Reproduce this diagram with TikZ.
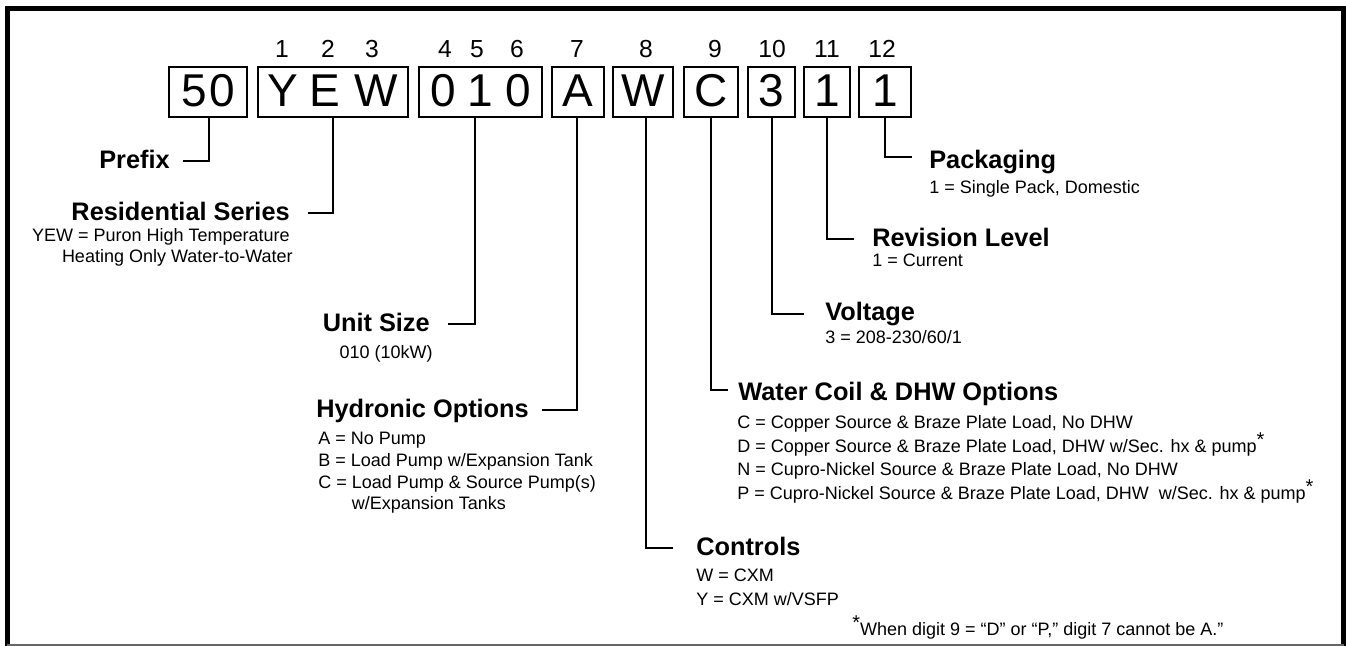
\documentclass[tikz,border=0pt]{standalone}
\usepackage{fontspec}
\setmainfont{Liberation Sans}
\newcommand{\bxfont}{\fontsize{34.5}{38}\selectfont}
\newcommand{\nmfont}{\fontsize{18.5}{20}\selectfont}
\newcommand{\hdfont}{\fontsize{19}{22}\selectfont\bfseries}
\newcommand{\bdfont}{\fontsize{13.5}{16}\selectfont}
\newcommand{\astk}{\raisebox{0.3em}{\fontsize{15}{15}\selectfont *}}
\begin{document}
\begin{tikzpicture}[x=0.75pt,y=-0.75pt,
  box/.style={draw,line width=1.5pt,inner sep=0pt,outer sep=0pt,minimum height=37.5pt,font=\bxfont,text height=24.7pt,text depth=3pt},
  num/.style={font=\nmfont,anchor=base,inner sep=0pt},
  headR/.style={font=\hdfont,anchor=base east,inner sep=0pt},
  headL/.style={font=\hdfont,anchor=base west,inner sep=0pt},
  bodyR/.style={font=\bdfont,anchor=base east,inner sep=0pt},
  bodyL/.style={font=\bdfont,anchor=base west,inner sep=0pt},
  conn/.style={line width=1.5pt}]
\useasboundingbox (0,0) rectangle (1346,646);
% frame
\draw[line width=3.75pt] (7,646) -- (7,8.5) -- (1343.5,8.5) -- (1343.5,646);
\draw[gray!80!black, line width=1pt] (7,645) -- (1343.5,645);
% boxes
\node[box,minimum width=58.5pt] (b1) at (208,92) {5\hspace{2pt}0};
\node[box,minimum width=112.5pt] (b2) at (333,92) {Y\hspace{8.5pt}E\hspace{10.5pt}W};
\node[box,minimum width=92.25pt] (b3) at (480.5,92) {0\hspace{9pt}1\hspace{9pt}0};
\node[box,minimum width=39pt] (b4) at (578,92) {A};
\node[box,minimum width=45pt] (b5) at (643,92) {W};
\node[box,minimum width=40.5pt] (b6) at (711,92) {C};
\node[box,minimum width=35.25pt] (b7) at (771.5,92) {3};
\node[box,minimum width=34.5pt] (b8) at (827,92) {1};
\node[box,minimum width=39pt] (b9) at (885,92) {1};
% digit positions
\node[num] (d1) at (282,57) {1};
\node[num] (d2) at (328,57) {2};
\node[num] (d3) at (372,57) {3};
\node[num] (d4) at (445,57) {4};
\node[num] (d5) at (477,57) {5};
\node[num] (d6) at (517,57) {6};
\node[num] (d7) at (577,57) {7};
\node[num] (d8) at (646,57) {8};
\node[num] (d9) at (715,57) {9};
\node[num] (d10) at (772,57) {10};
\node[num] (d11) at (827,57) {11};
\node[num] (d12) at (882,57) {12};
% labels
\node[headR] (pfx) at (170,168) {Prefix};
\node[headR] (res) at (290,220) {Residential Series};
\node[bodyR] (res1) at (290,241) {YEW = Puron High Temperature};
\node[bodyR] (res2) at (293,262) {Heating Only Water-to-Water};
\node[headR] (uns) at (430,331) {Unit Size};
\node[bodyR] (uns1) at (433,358) {010 (10kW)};
\node[headL] (hyd) at (316,417) {Hydronic Options};
\node[bodyL] (hyd1) at (318,444) {A = No Pump};
\node[bodyL] (hyd2) at (318,466) {B = Load Pump w/Expansion Tank};
\node[bodyL] (hyd3) at (318,488) {C = Load Pump \& Source Pump(s)};
\node[bodyL] (hyd4) at (318,509) {\phantom{C = }w/Expansion Tanks};
\node[headL] (ctl) at (696,555) {Controls};
\node[bodyL] (ctl1) at (696,581) {W = CXM};
\node[bodyL] (ctl2) at (696,605) {Y = CXM w/VSFP};
\node[headL] (wc) at (738,400) {Water Coil \& DHW Options};
\node[bodyL] (wc1) at (737,428) {C = Copper Source \& Braze Plate Load, No DHW};
\node[bodyL] (wc2) at (737,452) {D = Copper Source \& Braze Plate Load, DHW w/Sec. hx \& pump\astk};
\node[bodyL] (wc3) at (737,475) {N = Cupro-Nickel Source \& Braze Plate Load, No DHW};
\node[bodyL] (wc4) at (737,499) {P = Cupro-Nickel Source \& Braze Plate Load, DHW\ \ w/Sec. hx \& pump\astk};
\node[headL] (vol) at (825,320) {Voltage};
\node[bodyL] (vol1) at (825,343) {3 = 208-230/60/1};
\node[headL] (rev) at (872,246) {Revision Level};
\node[bodyL] (rev1) at (872,266) {1 = Current};
\node[headL] (pkg) at (929,168) {Packaging};
\node[bodyL] (pkg1) at (929,193) {1 = Single Pack, Domestic};
\node[bodyL] (note) at (852,635) {\astk When digit 9 = “D” or “P,” digit 7 cannot be A.”};
% connector corners and ends
\coordinate (k1) at (209,161); \coordinate (e1) at (183,161);
\coordinate (k2) at (333,213); \coordinate (e2) at (308,213);
\coordinate (k3) at (475,324); \coordinate (e3) at (448,324);
\coordinate (k4) at (577,410); \coordinate (e4) at (542,410);
\coordinate (k5) at (646,548); \coordinate (e5) at (673,548);
\coordinate (k6) at (711,390); \coordinate (e6) at (728,390);
\coordinate (k7) at (772,314); \coordinate (e7) at (804,314);
\coordinate (k8) at (827,239); \coordinate (e8) at (854,239);
\coordinate (k9) at (885,157); \coordinate (e9) at (912,157);
\draw[conn] (b1.south -| k1) -- (k1) -- (e1);
\draw[conn] (b2.south -| k2) -- (k2) -- (e2);
\draw[conn] (b3.south -| k3) -- (k3) -- (e3);
\draw[conn] (b4.south -| k4) -- (k4) -- (e4);
\draw[conn] (b5.south -| k5) -- (k5) -- (e5);
\draw[conn] (b6.south -| k6) -- (k6) -- (e6);
\draw[conn] (b7.south -| k7) -- (k7) -- (e7);
\draw[conn] (b8.south -| k8) -- (k8) -- (e8);
\draw[conn] (b9.south -| k9) -- (k9) -- (e9);
\end{tikzpicture}
\end{document}
